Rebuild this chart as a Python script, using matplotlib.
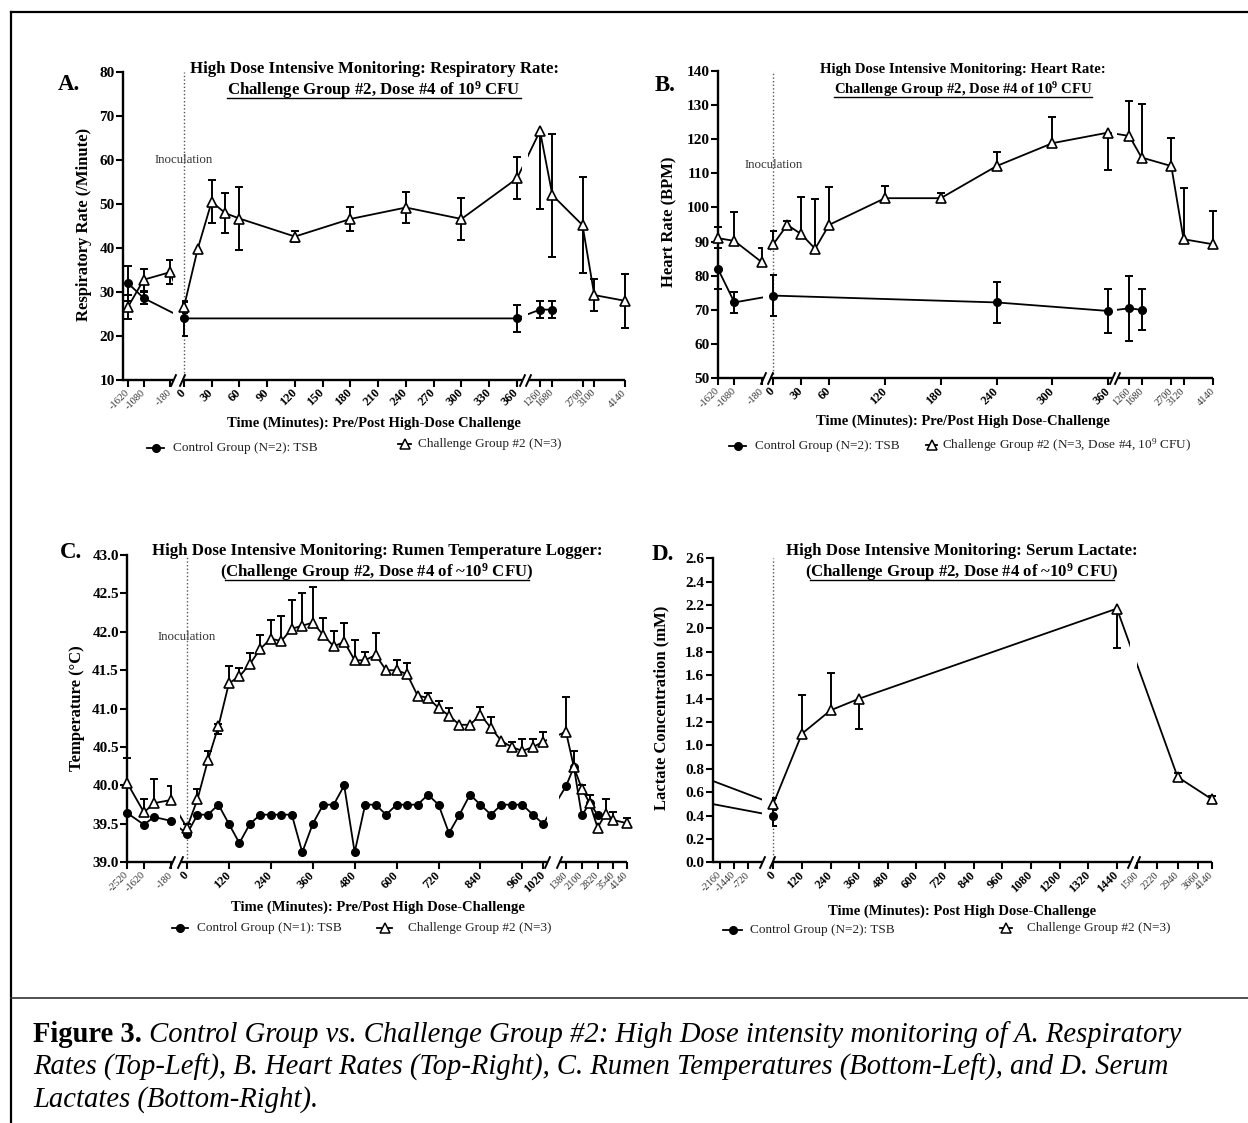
import numpy as np
import matplotlib
matplotlib.use("Agg")
import matplotlib.pyplot as plt
from matplotlib.lines import Line2D
from matplotlib.path import Path
from matplotlib.ticker import NullLocator

plt.rcParams['font.family'] = 'Liberation Serif'
plt.rcParams['mathtext.fontset'] = 'custom'
plt.rcParams['mathtext.rm'] = 'Liberation Serif'
plt.rcParams['mathtext.it'] = 'Liberation Serif:italic'
plt.rcParams['mathtext.bf'] = 'Liberation Serif:bold'

# ---------------- A. respiratory rate ----------------
resp_ctrl_t = [-1620, -1080, 0, 360, 1260, 1680]
resp_ctrl_v = [32.0, 28.6, 24.0, 24.0, 26.0, 26.0]
resp_ctrl_err = [4.0, 1.4, 3.9, 3.0, 2.0, 2.0]
resp_chal_t = [-1620, -1080, -180, 0, 15, 30, 45, 60, 120, 180, 240, 300, 360,
               1260, 1680, 2700, 3100, 4140]
resp_chal_v = [26.6, 32.8, 34.5, 26.5, 39.8, 50.5, 47.9, 46.7, 42.6, 46.6, 49.2,
               46.6, 55.8, 66.6, 52.0, 45.2, 29.3, 28.0]
resp_chal_lo = [2.7, 2.5, 2.7, 1.2, 0, 4.9, 4.6, 7.2, 1.2, 2.7, 3.5, 4.7, 4.6,
                17.7, 14.0, 10.9, 3.6, 6.1]
resp_chal_hi = [2.7, 2.5, 2.7, 1.2, 0, 5.0, 4.7, 7.1, 1.3, 2.7, 3.6, 4.8, 4.8,
                0, 14.0, 11.0, 3.6, 6.1]
resp_ticks = [-1620, -1080, -180, 0, 30, 60, 90, 120, 150, 180, 210, 240, 270,
              300, 330, 360, 1260, 1680, 2700, 3100, 4140]
resp_small = [-1620, -1080, -180, 1260, 1680, 2700, 3100, 4140]

# ---------------- B. heart rate ----------------
hr_ctrl_t = [-1620, -1080, 0, 240, 360, 1260, 1680]
hr_ctrl_v = [82.0, 72.2, 74.2, 72.2, 69.7, 70.5, 70.0]
hr_ctrl_err = [6.0, 3.0, 6.0, 6.0, 6.4, 9.5, 6.0]
hr_chal_t = [-1620, -1080, -180, 0, 15, 30, 45, 60, 120, 180, 240, 300, 360,
             1260, 1680, 2700, 3120, 4140]
hr_chal_v = [91.0, 90.2, 84.0, 89.2, 94.9, 92.2, 87.9, 94.9, 102.7, 102.7, 112.1,
             118.8, 121.9, 120.9, 114.6, 112.1, 90.7, 89.2]
hr_chal_lo = [0, 0, 0, 0, 0, 0, 0, 0, 0, 0, 0, 0, 10.9, 0, 0, 0, 0, 0]
hr_chal_hi = [3.4, 8.5, 4.2, 3.9, 1.2, 10.8, 14.6, 11.0, 3.6, 1.4, 4.0, 7.6, 0,
              10.3, 15.6, 8.1, 15.1, 9.8]
hr_ticks = [-1620, -1080, -180, 0, 30, 60, 120, 180, 240, 300, 360,
            1260, 1680, 2700, 3120, 4140]
hr_small = [-1620, -1080, -180, 1260, 1680, 2700, 3120, 4140]

# ---------------- C. rumen temperature ----------------
temp_t = [-2520, -1620, -1080, -180,
          0, 30, 60, 90, 120, 150, 180, 210, 240, 270, 300, 330, 360, 390, 420,
          450, 480, 510, 540, 570, 600, 630, 660, 690, 720, 750, 780, 810, 840,
          870, 900, 930, 960, 990, 1020,
          1380, 1740, 2100, 2460, 2820, 3180, 3540, 4140]
temp_ctrl_v = [39.64, 39.49, 39.59, 39.54,
               39.37, 39.62, 39.62, 39.75, 39.50, 39.25, 39.50, 39.62, 39.62, 39.62,
               39.62, 39.13, 39.50, 39.75, 39.75, 40.00, 39.13, 39.75, 39.75, 39.62,
               39.75, 39.75, 39.75, 39.88, 39.75, 39.38, 39.62, 39.88, 39.75, 39.62,
               39.75, 39.75, 39.75, 39.62, 39.50,
               39.99, 40.24, 39.61, 39.77, 39.62, np.nan, np.nan, np.nan]
temp_chal_v = [40.03, 39.65, 39.77, 39.81,
               39.45, 39.82, 40.33, 40.77, 41.33, 41.42, 41.58, 41.78, 41.91, 41.88,
               42.04, 42.08, 42.12, 41.96, 41.81, 41.87, 41.63, 41.63, 41.70, 41.50,
               41.50, 41.45, 41.17, 41.14, 41.01, 40.91, 40.79, 40.79, 40.92, 40.75,
               40.58, 40.50, 40.45, 40.50, 40.57,
               40.70, 40.24, 39.96, 39.77, 39.45, 39.63, 39.55, 39.51]
temp_chal_hi = [0.33, 0.17, 0.31, 0.18,
                0.05, 0.13, 0.12, 0.03, 0.22, 0.11, 0.15, 0.18, 0.24, 0.32,
                0.37, 0.42, 0.46, 0.22, 0.20, 0.24, 0.27, 0.11, 0.28, 0.0,
                0.13, 0.15, 0.0, 0.06, 0.09, 0.10, 0.0, 0.0, 0.10, 0.14,
                0.0, 0.06, 0.15, 0.11, 0.13,
                0.45, 0.21, 0.05, 0.10, 0.0, 0.19, 0.10, 0.07]
temp_chal_lo = [0, 0, 0, 0,
                0, 0, 0, 0.10, 0, 0, 0, 0, 0, 0, 0, 0, 0, 0, 0, 0, 0, 0, 0, 0,
                0, 0, 0, 0, 0, 0, 0, 0, 0, 0, 0, 0, 0, 0, 0,
                0, 0, 0, 0, 0, 0, 0, 0]
temp_ticks = [-2520, -1620, -180, 0, 120, 240, 360, 480, 600, 720, 840, 960, 1020,
              1380, 2100, 2820, 3540, 4140]
temp_small = [-2520, -1620, -180, 1380, 2100, 2820, 3540, 4140]

# ---------------- D. serum lactate ----------------
lac_ctrl_t = [-2880, 0]
lac_ctrl_v = [0.51, 0.40]
lac_ctrl_err = [0.0, 0.09]
lac_chal_t = [-2880, 0, 120, 240, 360, 1440, 2940, 4140]
lac_chal_v = [0.72, 0.50, 1.10, 1.30, 1.40, 2.17, 0.73, 0.54]
lac_chal_lo = [0, 0.05, 0, 0, 0.26, 0.34, 0.03, 0.03]
lac_chal_hi = [0, 0.05, 0.33, 0.32, 0, 0, 0.03, 0.03]
lac_ticks = [-2160, -1440, -720, 0, 120, 240, 360, 480, 600, 720, 840, 960, 1080,
             1200, 1320, 1440, 1500, 2220, 2940, 3660, 4140]
lac_small = [-2160, -1440, -720, 1500, 2220, 2940, 3660, 4140]

W, H = 1248, 1123
fig = plt.figure(figsize=(W / 100, H / 100), dpi=100)
fig.patch.set_facecolor('white')


def fx(x):
    return x / W


def fy(y):
    return 1 - y / H


SLASH = Path([(-0.45, -1.0), (0.45, 1.0)], [Path.MOVETO, Path.LINETO])


def broken_scale(segs):
    # piecewise linear x scale: each segment (data lo, data hi) -> (px lo, px hi)
    xs, us = [], []
    for d0, d1, p0, p1 in segs:
        xs += [d0, d1]
        us += [p0, p1]
    k0 = (us[1] - us[0]) / (xs[1] - xs[0])
    k1 = (us[-1] - us[-2]) / (xs[-1] - xs[-2])
    xs = [xs[0] - 1e6] + xs + [xs[-1] + 1e6]
    us = [us[0] - 1e6 * k0] + us + [us[-1] + 1e6 * k1]
    return (lambda x: np.interp(x, xs, us)), (lambda u: np.interp(u, us, xs))


def make_panel(segs, top, bottom, ylim, yticks, yfmt, xticks, small):
    left, right = segs[0][2], segs[-1][3]
    ax = fig.add_axes([fx(left), fy(bottom), (right - left) / W, (bottom - top) / H])
    ax.set_xscale('function', functions=broken_scale(segs))
    for s in ['top', 'right', 'bottom']:
        ax.spines[s].set_visible(False)
    ax.spines['left'].set_linewidth(1.7)
    ax.set_yticks(yticks)
    ax.set_yticklabels([yfmt.format(v) for v in yticks], fontweight='bold', fontsize=11)
    ax.tick_params(axis='y', direction='out', length=5, width=1.5, pad=1)
    ax.set_xticks(xticks)
    ax.set_xticklabels([str(t) for t in xticks], rotation=45, ha='right',
                       va='center', rotation_mode='anchor')
    for lab, t in zip(ax.get_xticklabels(), xticks):
        if t in small:
            lab.set_fontsize(7.5)
            lab.set_color('#333333')
        else:
            lab.set_fontsize(9)
            lab.set_fontweight('bold')
    ax.tick_params(axis='x', direction='out', length=5, width=1.5, pad=3)
    ax.xaxis.set_minor_locator(NullLocator())
    y0 = ylim[0]
    for i, (d0, d1, p0, p1) in enumerate(segs):
        ax.plot([d0, d1], [y0, y0], color='k', lw=1.7, clip_on=False, zorder=6,
                solid_capstyle='butt')
        if i > 0:
            ax.plot([d0], [y0], marker=SLASH, ms=9, mew=1.4, color='k',
                    clip_on=False, zorder=6)
        if i < len(segs) - 1:
            ax.plot([d1], [y0], marker=SLASH, ms=9, mew=1.4, color='k',
                    clip_on=False, zorder=6)
            ax.axvspan(d1, segs[i + 1][0], color='white', lw=0, zorder=3)
    ax.axvline(0, color='#555555', ls=(0, (1, 1.6)), lw=1.0, zorder=1)
    ax.set_facecolor('none')
    return ax


def draw_series(ax, t, v, lo, hi, filled, xlim):
    t = np.asarray(t, float)
    v = np.asarray(v, float)
    lo = np.asarray(lo, float)
    hi = np.asarray(hi, float)
    ok = ~np.isnan(v)
    ax.plot(t[ok], v[ok], color='k', lw=1.3, zorder=2)
    m = ok & (t >= xlim[0]) & (t <= xlim[1])
    for sel, ends in [(m & (hi > 0), v + hi), (m & (lo > 0), v - lo)]:
        ax.vlines(t[sel], v[sel], ends[sel], color='k', lw=1.4, zorder=2.5, clip_on=False)
        ax.plot(t[sel], ends[sel], ls='none', marker='_', ms=6, mew=1.4, color='k',
                zorder=2.5, clip_on=False)
    if filled:
        ax.plot(t[m], v[m], ls='none', marker='o', ms=5.5, mfc='k', mec='k',
                zorder=4, clip_on=False)
    else:
        ax.plot(t[m], v[m], ls='none', marker='^', ms=7, mfc='white', mec='k',
                mew=1.2, zorder=4, clip_on=False)


def finish(ax, segs, ylim):
    ax.set_xlim(segs[0][0], segs[-1][1])
    ax.set_ylim(*ylim)


def legend_entry(x0, x1, y, filled, text, tx):
    xm = (x0 + x1) / 2
    fig.add_artist(Line2D([fx(x0), fx(x1)], [fy(y), fy(y)], color='k', lw=1.3))
    if filled:
        fig.add_artist(Line2D([fx(xm)], [fy(y)], marker='o', ms=5.5, mfc='k', mec='k'))
    else:
        fig.add_artist(Line2D([fx(xm)], [fy(y)], marker='^', ms=6.5, mfc='white',
                              mec='k', mew=1.1))
    fig.text(fx(tx), fy(y), text, ha='left', va='center', fontsize=9.5, color='#222222')


titles = []


def title(cx, b1, b2, s1, s2, size=12):
    fig.text(fx(cx), fy(b1), s1, ha='center', va='baseline', fontsize=size, fontweight='bold')
    t2 = fig.text(fx(cx), fy(b2), s2, ha='center', va='baseline', fontsize=size,
                  fontweight='bold')
    titles.append((t2, b2, s2.startswith('(')))


# ---------------- panel A ----------------
segA = [(-1790, -77, 123, 173), (-2, 365, 182, 521.6), (853, 4140, 528, 625)]
ylimA = (10, 80)
axA = make_panel(segA, 72, 380, ylimA, list(range(10, 81, 10)), '{:d}', resp_ticks, resp_small)
draw_series(axA, resp_ctrl_t, resp_ctrl_v, resp_ctrl_err, resp_ctrl_err, True, (-1790, 4140))
draw_series(axA, resp_chal_t, resp_chal_v, resp_chal_lo, resp_chal_hi, False, (-1790, 4140))
axA.text(0, 60, 'Inoculation', ha='center', va='center', fontsize=9.3, color='#333333', zorder=5)
finish(axA, segA, ylimA)

# ---------------- panel B ----------------
segB = [(-1620, -137, 718, 763), (-3.5, 364, 770, 1112), (828, 4140, 1116.7, 1213.3)]
ylimB = (50, 140)
axB = make_panel(segB, 70.7, 378.3, ylimB, list(range(50, 141, 10)), '{:d}', hr_ticks, hr_small)
draw_series(axB, hr_ctrl_t, hr_ctrl_v, hr_ctrl_err, hr_ctrl_err, True, (-1620, 4140))
draw_series(axB, hr_chal_t, hr_chal_v, hr_chal_lo, hr_chal_hi, False, (-1620, 4140))
axB.text(0, 112.4, 'Inoculation', ha='center', va='center', fontsize=9.3, color='#333333', zorder=5)
finish(axB, segB, ylimB)

# ---------------- panel C ----------------
segC = [(-2520, -110, 127.3, 172), (-20, 1030, 180, 546.8), (1040, 4140, 558.5, 626.6)]
ylimC = (39, 43)
axC = make_panel(segC, 555, 862.3, ylimC, list(np.arange(39, 43.01, 0.5)), '{:.1f}',
                 temp_ticks, temp_small)
draw_series(axC, temp_t, temp_ctrl_v, [0] * len(temp_t), [0] * len(temp_t), True, (-2520, 4140))
draw_series(axC, temp_t, temp_chal_v, temp_chal_lo, temp_chal_hi, False, (-2520, 4140))
axC.text(0, 41.93, 'Inoculation', ha='center', va='center', fontsize=9.3, color='#333333', zorder=5)
finish(axC, segC, ylimC)

# ---------------- panel D ----------------
segD = [(-2520, -40, 712.5, 762), (-6, 1495, 771.9, 1130), (1500, 4140, 1136.7, 1211.7)]
ylimD = (0, 2.6)
axD = make_panel(segD, 558.3, 862.3, ylimD, list(np.arange(0, 2.61, 0.2)), '{:.1f}',
                 lac_ticks, lac_small)
draw_series(axD, lac_ctrl_t, lac_ctrl_v, lac_ctrl_err, lac_ctrl_err, True, (-2520, 4140))
draw_series(axD, lac_chal_t, lac_chal_v, lac_chal_lo, lac_chal_hi, False, (-2520, 4140))
finish(axD, segD, ylimD)

# ---------------- text ----------------
title(374, 73, 95, 'High Dose Intensive Monitoring: Respiratory Rate:',
      r'Challenge Group #2, Dose #4 of 10$^{\mathbf{9}}$ CFU', 12.1)
title(963, 73, 94, 'High Dose Intensive Monitoring: Heart Rate:',
      r'Challenge Group #2, Dose #4 of 10$^{\mathbf{9}}$ CFU', 10.6)
title(377, 555, 577, 'High Dose Intensive Monitoring: Rumen Temperature Logger:',
      r'(Challenge Group #2, Dose #4 of ~10$^{\mathbf{9}}$ CFU)', 12.1)
title(962, 555, 577, 'High Dose Intensive Monitoring: Serum Lactate:',
      r'(Challenge Group #2, Dose #4 of ~10$^{\mathbf{9}}$ CFU)', 12.1)

for lab, x, y in [('A.', 58, 90), ('B.', 655, 91), ('C.', 60, 558), ('D.', 652, 560)]:
    fig.text(fx(x), fy(y), lab, ha='left', va='baseline', fontsize=16.5, fontweight='bold')

for s, x, y in [('Respiratory Rate (/Minute)', 84, 224), ('Heart Rate (BPM)', 669, 222),
                ('Temperature (°C)', 77, 708), ('Lactate Concentration (mM)', 661, 708)]:
    fig.text(fx(x), fy(y), s, rotation=90, ha='center', va='center', fontsize=12,
             fontweight='bold')

for s, x, y in [('Time (Minutes): Pre/Post High-Dose Challenge', 374, 423),
                ('Time (Minutes): Pre/Post High Dose-Challenge', 963, 421),
                ('Time (Minutes): Pre/Post High Dose-Challenge', 378, 907),
                ('Time (Minutes): Post High Dose-Challenge', 962, 911)]:
    fig.text(fx(x), fy(y), s, ha='center', va='center', fontsize=10.5, fontweight='bold')

legend_entry(147, 164, 448, True, 'Control Group (N=2): TSB', 173)
legend_entry(398, 411, 444, False, 'Challenge Group #2 (N=3)', 418)
legend_entry(729, 746, 446, True, 'Control Group (N=2): TSB', 755)
legend_entry(926, 937, 445, False, r'Challenge Group #2 (N=3, Dose #4, 10$^{9}$ CFU)', 942)
legend_entry(172, 188, 928, True, 'Control Group (N=1): TSB', 197)
legend_entry(377, 392, 928, False, 'Challenge Group #2 (N=3)', 408)
legend_entry(723, 742, 930, True, 'Control Group (N=2): TSB', 750)
legend_entry(1000, 1012, 928, False, 'Challenge Group #2 (N=3)', 1027)

# frame lines
fig.add_artist(Line2D([fx(11), fx(W)], [fy(12), fy(12)], color='k', lw=1.6))
fig.add_artist(Line2D([fx(11), fx(11)], [fy(12), fy(H)], color='k', lw=1.6))
fig.add_artist(Line2D([fx(11), fx(W)], [fy(998), fy(998)], color='#333333', lw=1.2))

# caption
cap_lines = [' Control Group vs. Challenge Group #2: High Dose intensity monitoring of A. Respiratory',
             'Rates (Top-Left), B. Heart Rates (Top-Right), C. Rumen Temperatures (Bottom-Left), and D. Serum',
             'Lactates (Bottom-Right).']
cap_base = [1042, 1075, 1107]
fs = 16
bold = fig.text(fx(33), fy(cap_base[0]), 'Figure 3.', fontsize=fs, fontweight='bold', va='baseline')
cap = [fig.text(fx(33), fy(b), s, fontsize=fs, fontstyle='italic', va='baseline')
       for s, b in zip(cap_lines, cap_base)]

fig.canvas.draw()
r = fig.canvas.get_renderer()
w_total = bold.get_window_extent(r).width + cap[0].get_window_extent(r).width
fs = fs * 1150 / w_total
bold.set_fontsize(fs)
for c in cap:
    c.set_fontsize(fs)
fig.canvas.draw()
bw = bold.get_window_extent(r).width
cap[0].set_x(fx(33 + bw))

# underlines for second title lines
for t2, base, paren in titles:
    bb = t2.get_window_extent(r)
    x0, x1 = bb.x0, bb.x1
    if paren:
        x0 += 5
        x1 -= 5
    yy = (H - base - 2.5) / H
    fig.add_artist(Line2D([x0 / W, x1 / W], [yy, yy], color='k', lw=1.0))

fig.savefig('out.png', dpi=100, facecolor='white')
